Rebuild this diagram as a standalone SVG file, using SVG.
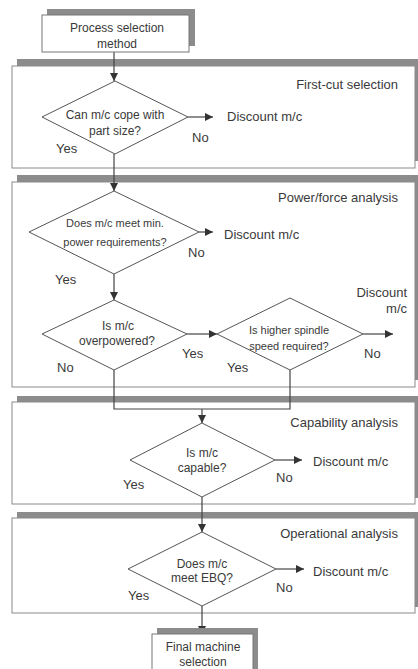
<svg xmlns="http://www.w3.org/2000/svg" width="418" height="669" viewBox="0 0 418 669">
  <style>
    text { font-family: "Liberation Sans", Arial, sans-serif; fill: #3a3a3a; }
    .lbl { font-size: 13px; }
    .q { font-size: 12px; text-anchor: middle; }
    .qs { font-size: 11px; text-anchor: middle; }
    .ttl { font-size: 13px; text-anchor: end; }
    .band { fill: #8c8c8c; }
    .panel { fill: #ffffff; stroke: #8a8a8a; stroke-width: 1; }
    .box { fill: #ffffff; stroke: #777777; stroke-width: 1; }
    .dia { fill: #ffffff; stroke: #555555; stroke-width: 1; }
    .wire { fill: none; stroke: #444444; stroke-width: 1.2; }
  </style>
  <defs>
    <marker id="arrow" viewBox="0 0 10 10" refX="10" refY="5" markerWidth="8" markerHeight="8" markerUnits="userSpaceOnUse" orient="auto">
      <path d="M0,0 L10,5 L0,10 Z" fill="#333333"/>
    </marker>
  </defs>

  <rect width="418" height="669" fill="#ffffff"/>

  <!-- stage panels with offset shadow band -->
  <g id="panel-first-cut">
    <rect class="band" x="17" y="59" width="403" height="102"/>
    <rect class="panel" x="12" y="66" width="403" height="102"/>
    <text class="ttl" x="398" y="89">First-cut selection</text>
  </g>
  <g id="panel-power">
    <rect class="band" x="17" y="175" width="403" height="205"/>
    <rect class="panel" x="12" y="182" width="403" height="205"/>
    <text class="ttl" x="398" y="201.5">Power/force analysis</text>
  </g>
  <g id="panel-capability">
    <rect class="band" x="17" y="396" width="403" height="102"/>
    <rect class="panel" x="12" y="402" width="403" height="102"/>
    <text class="ttl" x="398" y="426.5">Capability analysis</text>
  </g>
  <g id="panel-operational">
    <rect class="band" x="17" y="512" width="403" height="95"/>
    <rect class="panel" x="12" y="518" width="403" height="95"/>
    <text class="ttl" x="398" y="537.5">Operational analysis</text>
  </g>

  <!-- connectors -->
  <g id="connectors">
    <path class="wire" d="M114,52 V81" marker-end="url(#arrow)"/>
    <path class="wire" d="M188,117 H213" marker-end="url(#arrow)"/>
    <path class="wire" d="M114,154 V191" marker-end="url(#arrow)"/>
    <path class="wire" d="M199,232 H213" marker-end="url(#arrow)"/>
    <path class="wire" d="M114,274 V300" marker-end="url(#arrow)"/>
    <path class="wire" d="M187,334 H217" marker-end="url(#arrow)"/>
    <path class="wire" d="M363,334 H393" marker-end="url(#arrow)"/>
    <path class="wire" d="M114,370 V409 H290 V370"/>
    <path class="wire" d="M202,409 V423" marker-end="url(#arrow)"/>
    <path class="wire" d="M275,460 H302" marker-end="url(#arrow)"/>
    <path class="wire" d="M202,497 V532" marker-end="url(#arrow)"/>
    <path class="wire" d="M276,569 H304" marker-end="url(#arrow)"/>
    <path class="wire" d="M202,606 V634" marker-end="url(#arrow)"/>
  </g>

  <!-- nodes -->
  <g id="start">
    <rect class="band" x="47" y="9" width="148" height="37"/>
    <rect class="box" x="42" y="15" width="147" height="37"/>
    <text class="q" x="117" y="31.5">Process selection</text>
    <text class="q" x="117" y="47.5">method</text>
  </g>

  <g id="q-part-size">
    <polygon class="dia" points="115,81 188,117 115,154 42,117"/>
    <text class="q" x="115" y="119">Can m/c cope with</text>
    <text class="q" x="115" y="135">part size?</text>
  </g>
  <g id="out-part-size">
    <text class="lbl" x="227" y="121">Discount m/c</text>
    <text class="lbl" x="192" y="142">No</text>
    <text class="lbl" x="56" y="153">Yes</text>
  </g>

  <g id="q-min-power">
    <polygon class="dia" points="114,191 199,232 114,274 29,232"/>
    <text class="qs" x="115" y="227">Does m/c meet min.</text>
    <text class="qs" x="115" y="246">power requirements?</text>
  </g>
  <g id="out-min-power">
    <text class="lbl" x="224" y="238.5">Discount m/c</text>
    <text class="lbl" x="188" y="256.5">No</text>
    <text class="lbl" x="55" y="283.5">Yes</text>
  </g>

  <g id="q-overpowered">
    <polygon class="dia" points="114,300 187,334 114,370 42,334"/>
    <text class="q" x="118" y="329.5">Is m/c</text>
    <text class="q" x="117" y="344.5">overpowered?</text>
  </g>
  <g id="out-overpowered">
    <text class="lbl" x="182" y="357.5">Yes</text>
    <text class="lbl" x="57" y="371.5">No</text>
  </g>

  <g id="q-spindle">
    <polygon class="dia" points="290,298 363,334 290,370 217,334"/>
    <text class="qs" x="289" y="333.5">Is higher spindle</text>
    <text class="qs" x="289" y="349.5">speed required?</text>
  </g>
  <g id="out-spindle">
    <text class="lbl" x="407" y="296.5" text-anchor="end">Discount</text>
    <text class="lbl" x="407" y="312.5" text-anchor="end">m/c</text>
    <text class="lbl" x="364" y="357.5">No</text>
    <text class="lbl" x="227" y="371.5">Yes</text>
  </g>

  <g id="q-capable">
    <polygon class="dia" points="202,423 275,460 202,497 130,460"/>
    <text class="q" x="202" y="456.5">Is m/c</text>
    <text class="q" x="202" y="471.5">capable?</text>
  </g>
  <g id="out-capable">
    <text class="lbl" x="313" y="465.5">Discount m/c</text>
    <text class="lbl" x="276" y="481.5">No</text>
    <text class="lbl" x="123" y="488.5">Yes</text>
  </g>

  <g id="q-ebq">
    <polygon class="dia" points="202,532 276,569 202,606 128,569"/>
    <text class="q" x="202" y="567.5">Does m/c</text>
    <text class="q" x="202" y="581.5">meet EBQ?</text>
  </g>
  <g id="out-ebq">
    <text class="lbl" x="313" y="575.5">Discount m/c</text>
    <text class="lbl" x="276" y="591.5">No</text>
    <text class="lbl" x="128" y="599.5">Yes</text>
  </g>

  <g id="final">
    <rect class="band" x="157" y="628" width="101" height="50"/>
    <rect class="box" x="152" y="634" width="101" height="50"/>
    <text class="q" x="203" y="651">Final machine</text>
    <text class="q" x="203" y="666">selection</text>
  </g>
</svg>
